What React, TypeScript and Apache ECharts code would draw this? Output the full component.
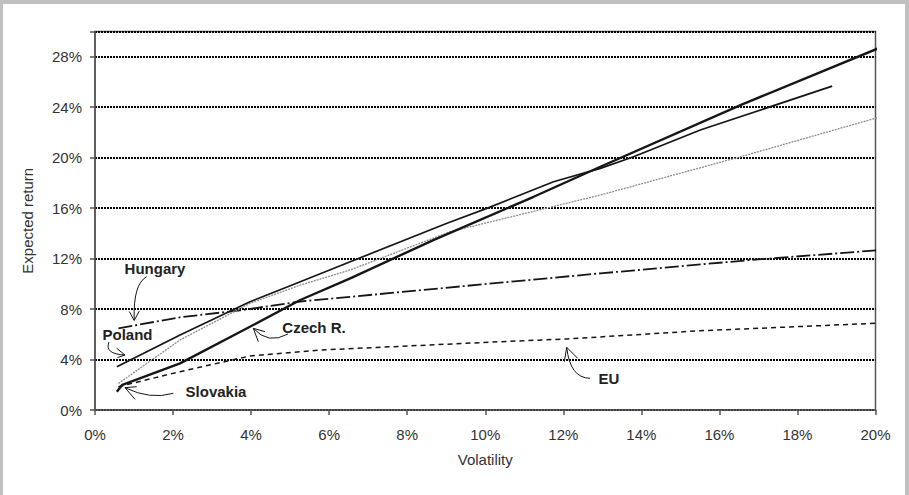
import React, { useEffect, useRef } from "react";
import * as echarts from "echarts";

// Volatility (%) and expected return (%)
const czechVol = [0.56, 0.7, 2.18, 3.97, 5.26, 6.54, 8.67, 11.24, 12.95, 16.54, 20.13];
const czechRet = [1.45, 2.0, 3.7, 6.6, 8.72, 10.43, 13.47, 16.9, 19.28, 24.17, 28.74];

const polandVol = [0.56, 2.18, 3.97, 5.26, 6.54, 9.02, 10.04, 11.75, 12.95, 13.8, 15.51, 18.89];
const polandRet = [3.43, 5.94, 8.58, 10.17, 11.75, 14.8, 15.98, 18.09, 19.15, 20.07, 22.19, 25.67];

const slovakVol = [0.6, 2.18, 3.97, 5.26, 6.54, 9.1, 12.95, 16.54, 20.13];
const slovakRet = [2.1, 5.55, 8.45, 9.9, 11.1, 14.13, 17.04, 20.07, 23.24];

const hungaryVol = [0.6, 2.18, 3.72, 5.26, 6.54, 10.38, 12.95, 16.8, 20.13];
const hungaryRet = [6.47, 7.35, 7.9, 8.6, 8.97, 10.09, 10.83, 11.89, 12.68];

const euVol = [0.6, 2.18, 3.97, 5.77, 10.38, 12.1, 15.5, 20.0];
const euRet = [1.85, 3.04, 4.28, 4.75, 5.41, 5.63, 6.28, 6.87];

const FONT = '"Liberation Sans", Arial, sans-serif';

const pairs = (xs: number[], ys: number[]) => xs.map((x, i) => [x, ys[i]]);

export default function App() {
  const ref = useRef<HTMLDivElement>(null);
  useEffect(() => {
    if (!ref.current) return;
    const chart = echarts.init(ref.current, undefined, { renderer: "svg" });
    const ink = "#161616";
    const arrow = (pts: number[][], curve: number[]) => [
      {
        type: "bezierCurve",
        shape: { x1: curve[0], y1: curve[1], cpx1: curve[2], cpy1: curve[3], x2: curve[4], y2: curve[5] },
        style: { stroke: ink, lineWidth: 1, fill: null },
        z: 100,
      },
      {
        type: "polyline",
        shape: { points: pts },
        style: { stroke: ink, lineWidth: 1, fill: null },
        z: 100,
      },
    ];
    const label = (text: string, x: number, y: number) => ({
      type: "text",
      x,
      y,
      z: 100,
      style: {
        text,
        font: `bold 15px ${FONT}`,
        fill: "#222",
        align: "center",
        verticalAlign: "middle",
      },
    });
    chart.setOption({
      animation: false,
      backgroundColor: "#ffffff",
      grid: {
        left: 95,
        right: 33.5,
        top: 31.5,
        bottom: 85,
        show: true,
        borderColor: "#555",
        borderWidth: 1.5,
        backgroundColor: "transparent",
      },
      xAxis: {
        type: "value",
        min: 0,
        max: 20,
        interval: 2,
        name: "Volatility",
        nameLocation: "middle",
        nameGap: 42,
        nameTextStyle: { fontFamily: FONT, fontSize: 15, color: "#333" },
        axisLine: { show: true, lineStyle: { color: "#555", width: 1.5 } },
        axisTick: { show: true, length: 5, lineStyle: { color: "#555", width: 1.5 } },
        axisLabel: {
          formatter: (v: number) => v + "%",
          fontFamily: FONT,
          fontSize: 15,
          color: "#333",
          margin: 17,
        },
        splitLine: { show: false },
      },
      yAxis: {
        type: "value",
        min: 0,
        max: 30,
        interval: 4,
        name: "Expected return",
        nameLocation: "middle",
        nameGap: 60,
        nameTextStyle: { fontFamily: FONT, fontSize: 15, color: "#333" },
        axisLine: { show: true, lineStyle: { color: "#555", width: 1.5 } },
        axisTick: { show: true, length: 5, lineStyle: { color: "#555", width: 1.5 } },
        axisLabel: {
          formatter: (v: number) => (v > 28 ? "" : v + "%"),
          fontFamily: FONT,
          fontSize: 15,
          color: "#333",
          margin: 13,
        },
        splitLine: {
          show: true,
          lineStyle: { color: "#000", width: 2, type: [2, 1] },
        },
      },
      series: [
        {
          name: "EU",
          type: "line",
          data: pairs(euVol, euRet),
          showSymbol: false,
          clip: false,
          lineStyle: { color: ink, width: 1.5, type: [5, 4] },
        },
        {
          name: "Hungary",
          type: "line",
          data: pairs(hungaryVol, hungaryRet),
          showSymbol: false,
          clip: false,
          lineStyle: { color: ink, width: 1.8, type: [14, 3, 2, 3] },
        },
        {
          name: "Slovakia",
          type: "line",
          data: pairs(slovakVol, slovakRet),
          showSymbol: false,
          clip: false,
          lineStyle: { color: "#8c8c8c", width: 1.3, type: [2, 1] },
        },
        {
          name: "Poland",
          type: "line",
          data: pairs(polandVol, polandRet),
          showSymbol: false,
          clip: false,
          lineStyle: { color: ink, width: 1.7 },
        },
        {
          name: "Czech R.",
          type: "line",
          data: pairs(czechVol, czechRet),
          showSymbol: false,
          clip: false,
          lineStyle: { color: ink, width: 2.4 },
        },
      ],
      graphic: [
        { type: "rect", shape: { x: 0, y: 0, width: 909, height: 4 }, style: { fill: "#c0c0c0" }, z: 100 },
        { type: "rect", shape: { x: 0, y: 0, width: 3, height: 495 }, style: { fill: "#c0c0c0" }, z: 100 },
        { type: "rect", shape: { x: 905, y: 0, width: 4, height: 495 }, style: { fill: "#c0c0c0" }, z: 100 },
        label("Hungary", 155, 268),
        ...arrow([[129.3, 311.5], [134.2, 320.5], [139.3, 311]], [146.7, 276.7, 133, 284, 134.2, 320]),
        label("Poland", 127.5, 334.5),
        ...arrow([[116.7, 348.3], [125, 355], [117.5, 357.5]], [109, 342, 104, 354, 125, 355]),
        label("Czech R.", 314, 327),
        ...arrow([[265, 331.7], [253.3, 328.3], [258.3, 341.7]], [288, 334, 268, 345, 253.3, 328.3]),
        label("Slovakia", 216, 391.5),
        ...arrow([[136.7, 386.7], [125, 387.7], [135, 399.3]], [173.3, 393.3, 150, 400, 125, 387.7]),
        label("EU", 609, 378),
        ...arrow([[564.3, 361.7], [566.7, 347.3], [577.7, 358.3]], [590, 378.3, 570, 378, 566.7, 347.3]),
      ],
    });
    return () => chart.dispose();
  }, []);
  return (
    <div
      ref={ref}
      style={{ position: "fixed", left: 0, top: 0, width: 909, height: 495, background: "#fff" }}
    />
  );
}
